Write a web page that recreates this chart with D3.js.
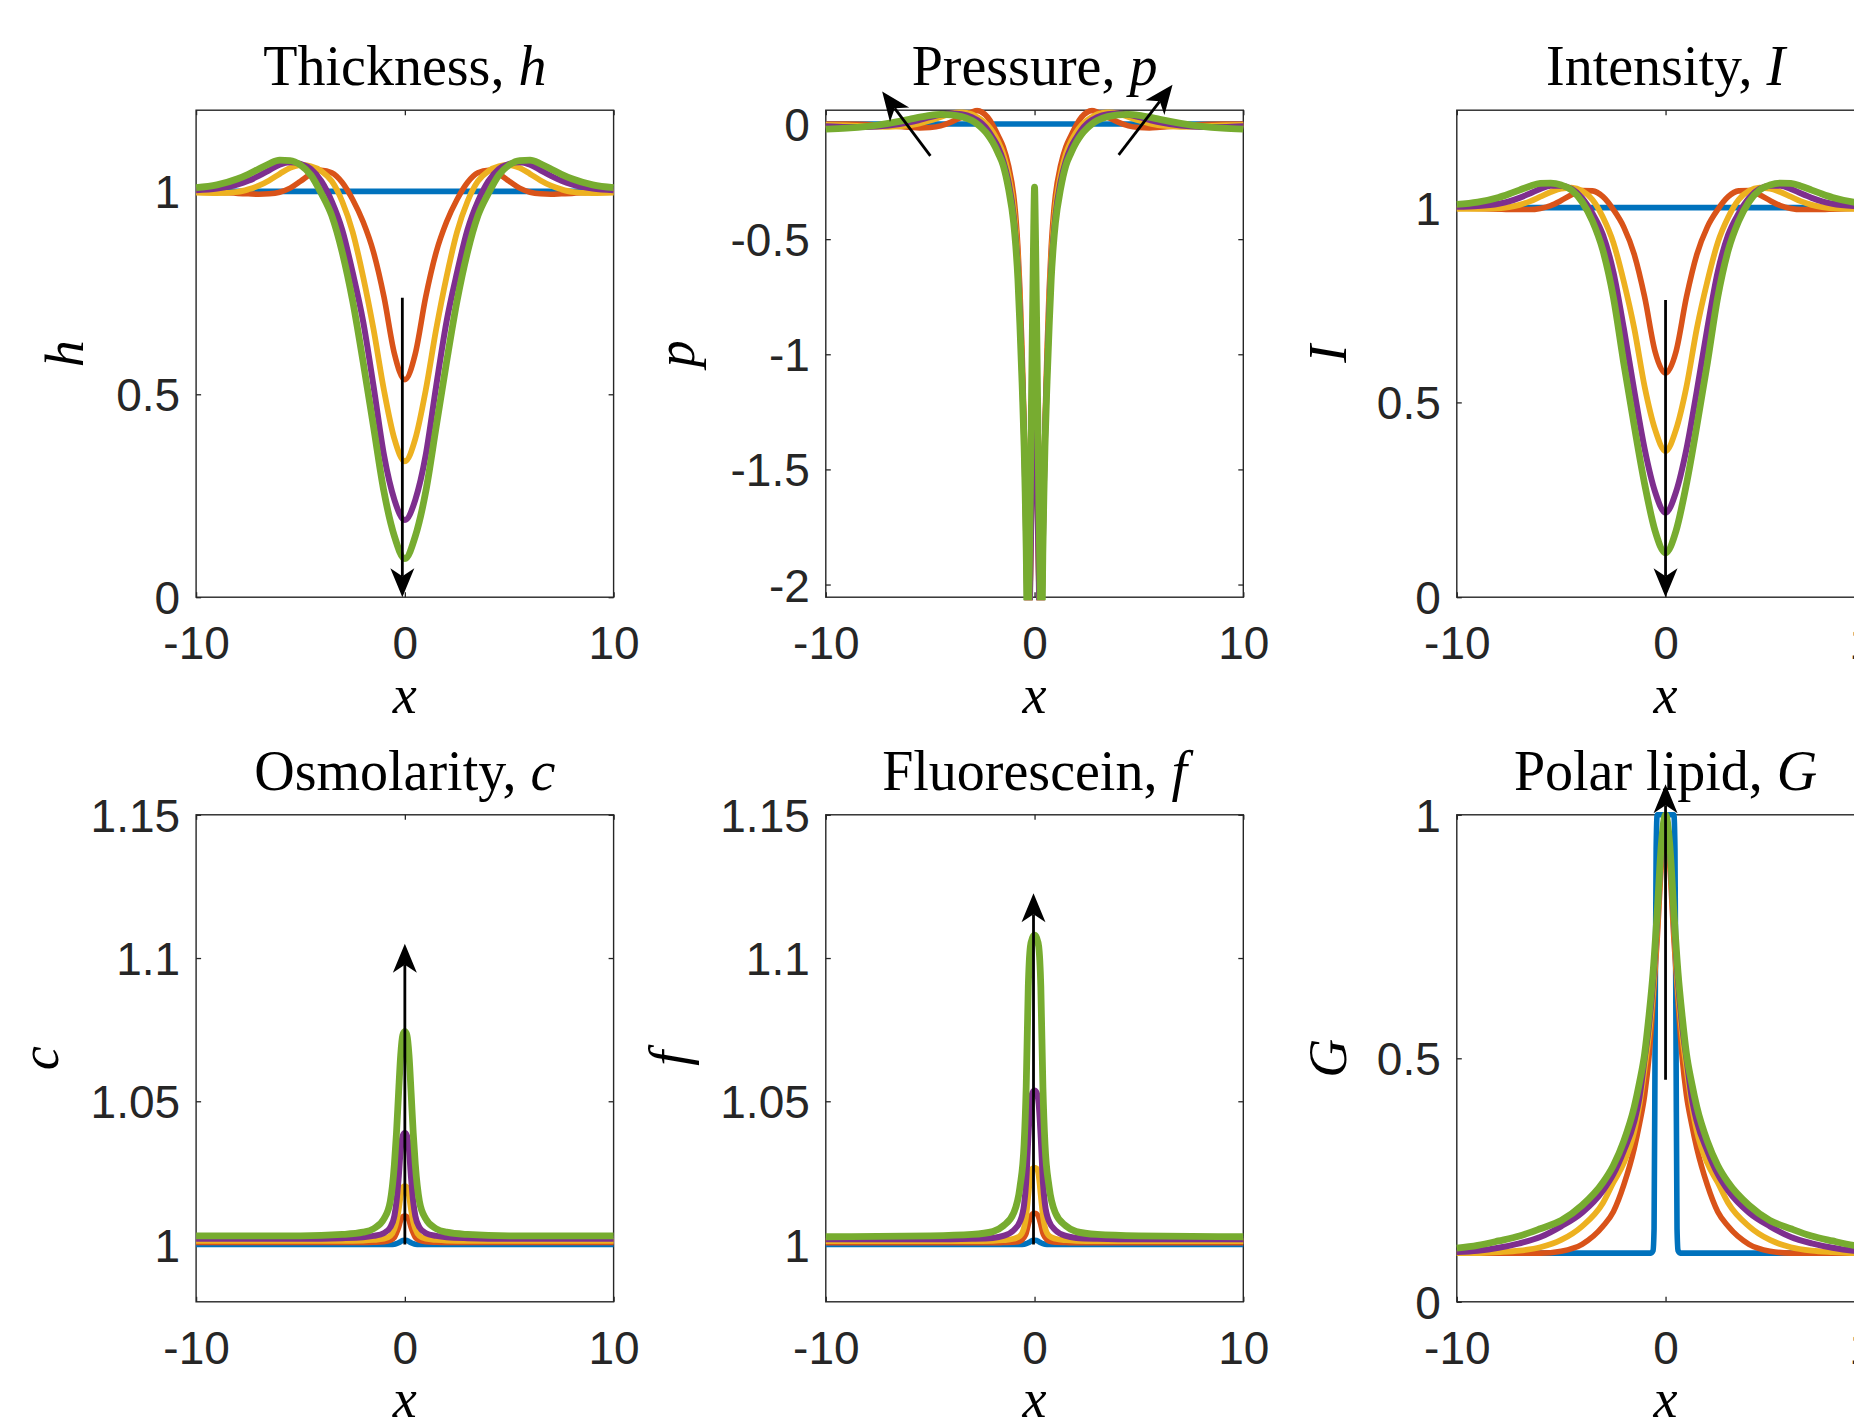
<!DOCTYPE html>
<html><head><meta charset="utf-8">
<script src="https://cdn.jsdelivr.net/npm/d3@7"></script>
<style>body{margin:0;background:#fff}svg{display:block}</style>
</head><body><svg id="chart"></svg>
<script>
// ---------------- DATA ----------------
const xTicks = [-10, 0, 10];

// Thickness h
const hYLim = [0, 1.2];
const hYTicks = [0, 0.5, 1];
const hYTickLabels = ["0", "0.5", "1"];
const hX = [-10,-9,-8,-7.5,-7,-6.5,-6,-5.5,-5,-4.5,-4,-3.5,-3,-2.5,-2,-1.5,-1,-0.5,0,0.5,1,1.5,2,2.5,3,3.5,4,4.5,5,5.5,6,6.5,7,7.5,8,9,10];
const hBlueX = [-10, 10];
const hBlue = [1, 1];
const hOrange = [0.999,0.998,0.995,0.994,0.993,0.994,0.998,1.008,1.025,1.043,1.052,1.046,1.022,0.98,0.925,0.85,0.74,0.60,0.536,0.60,0.74,0.85,0.925,0.98,1.022,1.046,1.052,1.043,1.025,1.008,0.998,0.994,0.993,0.994,0.995,0.998,0.999];
const hYellow = [0.997,0.996,0.999,1.005,1.014,1.027,1.043,1.058,1.065,1.062,1.05,1.025,0.975,0.90,0.79,0.66,0.51,0.39,0.335,0.39,0.51,0.66,0.79,0.90,0.975,1.025,1.05,1.062,1.065,1.058,1.043,1.027,1.014,1.005,0.999,0.996,0.997];
const hPurple = [1.003,1.007,1.017,1.026,1.038,1.052,1.066,1.072,1.068,1.055,1.025,0.975,0.905,0.80,0.68,0.52,0.35,0.24,0.19,0.24,0.35,0.52,0.68,0.80,0.905,0.975,1.025,1.055,1.068,1.072,1.066,1.052,1.038,1.026,1.017,1.007,1.003];
const hGreen = [1.009,1.016,1.031,1.042,1.055,1.068,1.077,1.076,1.065,1.04,0.995,0.94,0.85,0.73,0.58,0.42,0.26,0.15,0.095,0.15,0.26,0.42,0.58,0.73,0.85,0.94,0.995,1.04,1.065,1.076,1.077,1.068,1.055,1.042,1.031,1.016,1.009];
const hArrow = [[-0.12, 0.738], [-0.12, 0.0]];

// Pressure p
const pYLim = [-2.055, 0.06];
const pYTicks = [-2, -1.5, -1, -0.5, 0];
const pYTickLabels = ["-2", "-1.5", "-1", "-0.5", "0"];
const pX = [-10,-9,-8,-7,-6,-5.5,-5,-4.5,-4,-3.5,-3,-2.75,-2.5,-2.25,-2,-1.75,-1.5,-1.25,-1,-0.9,-0.8,-0.7,-0.6,-0.5,-0.45,-0.4,-0.35,-0.3,-0.25,-0.2,-0.16,-0.12,-0.08,-0.04,0,0.04,0.08,0.12,0.16,0.2,0.25,0.3,0.35,0.4,0.45,0.5,0.6,0.7,0.8,0.9,1,1.25,1.5,1.75,2,2.25,2.5,2.75,3,3.5,4,4.5,5,5.5,6,7,8,9,10];
const pBlueX = [-10, 10];
const pBlue = [0, 0];
const pOrange = [0.0,0.0,-0.002,-0.006,-0.014,-0.017,-0.015,-0.008,0.008,0.03,0.052,0.058,0.05,0.03,-0.005,-0.05,-0.10,-0.18,-0.31,-0.40,-0.53,-0.72,-0.98,-1.3,-1.5,-1.75,-2.05,-2.3,-2.2,-1.95,-1.7,-1.45,-1.2,-1.02,-0.93,-1.02,-1.2,-1.45,-1.7,-1.95,-2.2,-2.3,-2.05,-1.75,-1.5,-1.3,-0.98,-0.72,-0.53,-0.40,-0.31,-0.18,-0.10,-0.05,-0.005,0.03,0.05,0.058,0.052,0.03,0.008,-0.008,-0.015,-0.017,-0.014,-0.006,-0.002,0.0,0.0];
const pYellow = [-0.004,-0.006,-0.01,-0.012,-0.006,0.003,0.015,0.03,0.045,0.05,0.042,0.03,0.015,-0.005,-0.035,-0.075,-0.13,-0.22,-0.36,-0.46,-0.59,-0.78,-1.04,-1.35,-1.55,-1.8,-2.1,-2.28,-2.2,-1.95,-1.72,-1.48,-1.27,-1.12,-1.05,-1.12,-1.27,-1.48,-1.72,-1.95,-2.2,-2.28,-2.1,-1.8,-1.55,-1.35,-1.04,-0.78,-0.59,-0.46,-0.36,-0.22,-0.13,-0.075,-0.035,-0.005,0.015,0.03,0.042,0.05,0.045,0.03,0.015,0.003,-0.006,-0.012,-0.01,-0.006,-0.004];
const pPurple = [-0.01,-0.013,-0.013,-0.007,0.007,0.018,0.03,0.04,0.046,0.043,0.03,0.017,0.0,-0.025,-0.06,-0.1,-0.16,-0.25,-0.4,-0.5,-0.63,-0.83,-1.08,-1.37,-1.57,-1.82,-2.12,-2.25,-2.2,-1.96,-1.74,-1.52,-1.36,-1.25,-1.2,-1.25,-1.36,-1.52,-1.74,-1.96,-2.2,-2.25,-2.12,-1.82,-1.57,-1.37,-1.08,-0.83,-0.63,-0.5,-0.4,-0.25,-0.16,-0.1,-0.06,-0.025,0.0,0.017,0.03,0.043,0.046,0.04,0.03,0.018,0.007,-0.007,-0.013,-0.013,-0.01];
const pGreen = [-0.022,-0.018,-0.01,0.003,0.02,0.03,0.038,0.042,0.04,0.032,0.015,0.0,-0.02,-0.045,-0.08,-0.125,-0.18,-0.28,-0.43,-0.53,-0.67,-0.88,-1.12,-1.4,-1.6,-1.85,-2.18,-2.18,-1.92,-1.6,-1.3,-1.0,-0.72,-0.45,-0.274,-0.45,-0.72,-1.0,-1.3,-1.6,-1.92,-2.18,-2.18,-1.85,-1.6,-1.4,-1.12,-0.88,-0.67,-0.53,-0.43,-0.28,-0.18,-0.125,-0.08,-0.045,-0.02,0.0,0.015,0.032,0.04,0.042,0.038,0.03,0.02,0.003,-0.01,-0.018,-0.022];
const pArrowLeft = [[-4.99, -0.138], [-7.30, 0.141]];
const pArrowRight = [[4.03, -0.134], [6.61, 0.171]];

// Intensity I
const iYLim = [0, 1.25];
const iYTicks = [0, 0.5, 1];
const iYTickLabels = ["0", "0.5", "1"];
const iX = [-10,-9,-8,-7.5,-7,-6.5,-6,-5.5,-5,-4.5,-4,-3.5,-3,-2.5,-2,-1.5,-1,-0.5,0,0.5,1,1.5,2,2.5,3,3.5,4,4.5,5,5.5,6,6.5,7,7.5,8,9,10];
const iBlueX = [-10, 10];
const iBlue = [1, 1];
const iOrange = [0.999,0.998,0.996,0.995,0.995,0.995,0.998,1.005,1.018,1.033,1.044,1.043,1.028,0.995,0.95,0.88,0.77,0.63,0.575,0.63,0.77,0.88,0.95,0.995,1.028,1.043,1.044,1.033,1.018,1.005,0.998,0.995,0.995,0.995,0.996,0.998,0.999];
const iYellow = [0.997,0.997,0.998,1.001,1.007,1.016,1.028,1.04,1.049,1.051,1.043,1.02,0.975,0.91,0.81,0.69,0.54,0.43,0.375,0.43,0.54,0.69,0.81,0.91,0.975,1.02,1.043,1.051,1.049,1.04,1.028,1.016,1.007,1.001,0.998,0.997,0.997];
const iPurple = [1.002,1.004,1.010,1.016,1.025,1.036,1.048,1.056,1.056,1.048,1.025,0.985,0.93,0.835,0.69,0.53,0.38,0.27,0.217,0.27,0.38,0.53,0.69,0.835,0.93,0.985,1.025,1.048,1.056,1.056,1.048,1.036,1.025,1.016,1.010,1.004,1.002];
const iGreen = [1.008,1.014,1.026,1.035,1.045,1.055,1.062,1.063,1.058,1.045,1.015,0.965,0.89,0.77,0.60,0.44,0.29,0.17,0.114,0.17,0.29,0.44,0.60,0.77,0.89,0.965,1.015,1.045,1.058,1.063,1.062,1.055,1.045,1.035,1.026,1.014,1.008];
const iArrow = [[0, 0.763], [0, 0.0]];

// Osmolarity c
const cYLim = [0.98, 1.15];
const cYTicks = [1, 1.05, 1.1, 1.15];
const cYTickLabels = ["1", "1.05", "1.1", "1.15"];
const cX = [-10,-5,-3,-2,-1.5,-1,-0.7,-0.5,-0.4,-0.3,-0.2,-0.1,0,0.1,0.2,0.3,0.4,0.5,0.7,1,1.5,2,3,5,10];
const cBlue = [1,1,1,1,1,1,1,1.0001,1.0003,1.0006,1.001,1.0014,1.0015,1.0014,1.001,1.0006,1.0003,1.0001,1,1,1,1,1,1,1];
const cOrange = [1.0007,1.0007,1.0007,1.0007,1.0008,1.001,1.0015,1.0025,1.004,1.006,1.0085,1.0097,1.0099,1.0097,1.0085,1.006,1.004,1.0025,1.0015,1.001,1.0008,1.0007,1.0007,1.0007,1.0007];
const cYellow = [1.0013,1.0013,1.0013,1.0014,1.0016,1.002,1.003,1.0055,1.008,1.012,1.017,1.020,1.0204,1.020,1.017,1.012,1.008,1.0055,1.003,1.002,1.0016,1.0014,1.0013,1.0013,1.0013];
const cPurple = [1.002,1.002,1.0022,1.0025,1.003,1.004,1.006,1.010,1.015,1.023,1.033,1.038,1.0389,1.038,1.033,1.023,1.015,1.010,1.006,1.004,1.003,1.0025,1.0022,1.002,1.002];
const cGreen = [1.003,1.003,1.0035,1.0043,1.0055,1.009,1.015,1.028,1.039,1.053,1.066,1.073,1.0744,1.073,1.066,1.053,1.039,1.028,1.015,1.009,1.0055,1.0043,1.0035,1.003,1.003];
const cArrow = [[0, 1.0], [0, 1.105]];

// Fluorescein f
const fYLim = [0.98, 1.15];
const fYTicks = [1, 1.05, 1.1, 1.15];
const fYTickLabels = ["1", "1.05", "1.1", "1.15"];
const fX = [-10,-5,-3,-2,-1.5,-1,-0.7,-0.5,-0.4,-0.3,-0.2,-0.1,0,0.1,0.2,0.3,0.4,0.5,0.7,1,1.5,2,3,5,10];
const fBlue = [1,1,1,1,1,1,1,1.0001,1.0003,1.0006,1.001,1.0014,1.0015,1.0014,1.001,1.0006,1.0003,1.0001,1,1,1,1,1,1,1];
const fOrange = [1.0006,1.0006,1.0006,1.0006,1.0007,1.0008,1.0012,1.0025,1.004,1.007,1.0095,1.0107,1.0109,1.0107,1.0095,1.007,1.004,1.0025,1.0012,1.0008,1.0007,1.0006,1.0006,1.0006,1.0006];
const fYellow = [1.0012,1.0012,1.0012,1.0013,1.0015,1.002,1.003,1.006,1.010,1.017,1.024,1.0265,1.0268,1.0265,1.024,1.017,1.010,1.006,1.003,1.002,1.0015,1.0013,1.0012,1.0012,1.0012];
const fPurple = [1.0018,1.0018,1.002,1.0023,1.003,1.005,1.008,1.014,1.022,1.037,1.049,1.053,1.0538,1.053,1.049,1.037,1.022,1.014,1.008,1.005,1.003,1.0023,1.002,1.0018,1.0018];
const fGreen = [1.0027,1.003,1.0035,1.0045,1.0065,1.011,1.020,1.035,1.055,1.090,1.104,1.107,1.108,1.107,1.104,1.090,1.055,1.035,1.020,1.011,1.0065,1.0045,1.0035,1.003,1.0027];
const fArrow = [[-0.05, 1.0], [-0.05, 1.1226]];

// Polar lipid G
const gYLim = [0, 1];
const gYTicks = [0, 0.5, 1];
const gYTickLabels = ["0", "0.5", "1"];
const gX = [-10,-9,-8,-7,-6,-5,-4,-3,-2.5,-2,-1.5,-1.25,-1,-0.8,-0.6,-0.4,-0.2,0,0.2,0.4,0.6,0.8,1,1.25,1.5,2,2.5,3,4,5,6,7,8,9,10];
const gBlueX = [-10,-0.7,-0.6,-0.55,-0.5,-0.45,-0.4,0,0.4,0.45,0.5,0.55,0.6,0.7,10];
const gBlue = [0.1,0.1,0.105,0.15,0.55,0.93,1.0,1.0,1.0,0.93,0.55,0.15,0.105,0.1,0.1];
const gOrange = [0.1,0.1,0.1,0.1,0.1,0.104,0.118,0.155,0.185,0.24,0.315,0.365,0.425,0.50,0.615,0.745,0.90,1.0,0.90,0.745,0.615,0.50,0.425,0.365,0.315,0.24,0.185,0.155,0.118,0.104,0.1,0.1,0.1,0.1,0.1];
const gYellow = [0.1,0.1,0.102,0.105,0.112,0.127,0.155,0.203,0.245,0.285,0.35,0.405,0.48,0.545,0.635,0.77,0.92,1.0,0.92,0.77,0.635,0.545,0.48,0.405,0.35,0.285,0.245,0.203,0.155,0.127,0.112,0.105,0.102,0.1,0.1];
const gPurple = [0.102,0.105,0.111,0.12,0.133,0.155,0.183,0.228,0.262,0.31,0.37,0.42,0.50,0.565,0.655,0.785,0.93,1.0,0.93,0.785,0.655,0.565,0.50,0.42,0.37,0.31,0.262,0.228,0.183,0.155,0.133,0.12,0.111,0.105,0.102];
const gGreen = [0.11,0.116,0.125,0.135,0.15,0.167,0.198,0.245,0.28,0.33,0.40,0.45,0.51,0.585,0.675,0.80,0.94,1.0,0.94,0.80,0.675,0.585,0.51,0.45,0.40,0.33,0.28,0.245,0.198,0.167,0.15,0.135,0.125,0.116,0.11];
const gArrow = [[0, 0.456], [0, 1.0625]];

const titles = [["Thickness, ", "h"], ["Pressure, ", "p"], ["Intensity, ", "I"], ["Osmolarity, ", "c"], ["Fluorescein, ", "f"], ["Polar lipid, ", "G"]];
const yLabels = ["h", "p", "I", "c", "f", "G"];
const xLabel = "x";

// ---------------- LAYOUT / STYLE ----------------
const W = 1854, H = 1418;
const colLeft = [196.1, 825.8, 1456.8];
const rowTop = [110.2, 814.8];
const plotW = 417.5, plotH = 487.0;
const yLabelOffset = [113, 132, 111, 138, 139, 111];
const seriesColors = ["#0072BD", "#D95319", "#EDB120", "#7E2F8E", "#77AC30"];
const seriesWidths = [5.6, 5.6, 5.8, 6.0, 6.8];
const axisColor = "#262626";
const tickFont = "'Liberation Sans', Arial, Helvetica, sans-serif";
const serifFont = "'Liberation Serif', 'Times New Roman', 'DejaVu Serif', serif";

const panels = [
  {ylim: hYLim, yTicks: hYTicks, yLabs: hYTickLabels, series: [[hBlueX, hBlue], [hX, hOrange], [hX, hYellow], [hX, hPurple], [hX, hGreen]], arrows: [hArrow]},
  {ylim: pYLim, yTicks: pYTicks, yLabs: pYTickLabels, series: [[pBlueX, pBlue], [pX, pOrange], [pX, pYellow], [pX, pPurple], [pX, pGreen]], arrows: [pArrowLeft, pArrowRight]},
  {ylim: iYLim, yTicks: iYTicks, yLabs: iYTickLabels, series: [[iBlueX, iBlue], [iX, iOrange], [iX, iYellow], [iX, iPurple], [iX, iGreen]], arrows: [iArrow]},
  {ylim: cYLim, yTicks: cYTicks, yLabs: cYTickLabels, series: [[cX, cBlue], [cX, cOrange], [cX, cYellow], [cX, cPurple], [cX, cGreen]], arrows: [cArrow]},
  {ylim: fYLim, yTicks: fYTicks, yLabs: fYTickLabels, series: [[fX, fBlue], [fX, fOrange], [fX, fYellow], [fX, fPurple], [fX, fGreen]], arrows: [fArrow]},
  {ylim: gYLim, yTicks: gYTicks, yLabs: gYTickLabels, series: [[gBlueX, gBlue], [gX, gOrange], [gX, gYellow], [gX, gPurple], [gX, gGreen]], arrows: [gArrow]}
];

const svg = d3.select("#chart").attr("width", W).attr("height", H);
svg.append("rect").attr("width", W).attr("height", H).attr("fill", "#fff");
const defs = svg.append("defs");

function drawArrow(g, x0, y0, x1, y1) {
  const dx = x1 - x0, dy = y1 - y0, len = Math.hypot(dx, dy);
  const ux = dx / len, uy = dy / len, px = -uy, py = ux;
  const L = 29, HW = 12, N = 8;
  const bx = x1 - ux * (L - N), by = y1 - uy * (L - N);
  g.append("line").attr("x1", x0).attr("y1", y0).attr("x2", bx).attr("y2", by)
    .attr("stroke", "#000").attr("stroke-width", 2.8);
  const p2 = [x1 - ux * L + px * HW, y1 - uy * L + py * HW];
  const p4 = [x1 - ux * L - px * HW, y1 - uy * L - py * HW];
  g.append("path").attr("d", `M${x1},${y1}L${p2[0]},${p2[1]}L${bx},${by}L${p4[0]},${p4[1]}Z`).attr("fill", "#000");
}

panels.forEach((P, i) => {
  const left = colLeft[i % 3], top = rowTop[Math.floor(i / 3)];
  const bottom = top + plotH, right = left + plotW, cx = left + plotW / 2;
  const x = d3.scaleLinear().domain([-10, 10]).range([left, right]);
  const y = d3.scaleLinear().domain(P.ylim).range([bottom, top]);
  const g = svg.append("g");

  // box
  g.append("rect").attr("x", left).attr("y", top).attr("width", plotW).attr("height", plotH)
    .attr("fill", "none").attr("stroke", axisColor).attr("stroke-width", 1.4);

  // axes (ticks inward, mirrored)
  const styleAxis = sel => {
    sel.select(".domain").remove();
    sel.selectAll(".tick line").attr("stroke", axisColor).attr("stroke-width", 1.3);
    sel.selectAll("text").attr("fill", axisColor).attr("font-family", tickFont).attr("font-size", 46);
  };
  const gb = g.append("g").attr("transform", `translate(0,${bottom})`)
    .call(d3.axisBottom(x).tickValues(xTicks).tickFormat(d => String(d)).tickSizeInner(-5).tickSizeOuter(0));
  styleAxis(gb);
  gb.selectAll("text").attr("y", 62).attr("dy", null);
  const gt = g.append("g").attr("transform", `translate(0,${top})`)
    .call(d3.axisTop(x).tickValues(xTicks).tickFormat("").tickSizeInner(-5).tickSizeOuter(0));
  styleAxis(gt);
  const gl = g.append("g").attr("transform", `translate(${left},0)`)
    .call(d3.axisLeft(y).tickValues(P.yTicks).tickFormat((d, k) => P.yLabs[k]).tickSizeInner(-5).tickSizeOuter(0));
  styleAxis(gl);
  gl.selectAll("text").attr("x", -16).attr("dy", "0.36em");
  const gr = g.append("g").attr("transform", `translate(${right},0)`)
    .call(d3.axisRight(y).tickValues(P.yTicks).tickFormat("").tickSizeInner(-5).tickSizeOuter(0));
  styleAxis(gr);

  // curves
  const clipId = "clip" + i;
  defs.append("clipPath").attr("id", clipId).append("rect")
    .attr("x", left - 3).attr("y", top - 3).attr("width", plotW + 6).attr("height", plotH + 6);
  const lineGen = d3.line().x(d => x(d[0])).y(d => y(d[1])).curve(d3.curveMonotoneX);
  const cg = g.append("g").attr("clip-path", `url(#${clipId})`);
  P.series.forEach((s, k) => {
    cg.append("path").datum(d3.zip(s[0], s[1])).attr("d", lineGen)
      .attr("fill", "none").attr("stroke", seriesColors[k]).attr("stroke-width", seriesWidths[k])
      .attr("stroke-linejoin", "round");
  });

  // title
  const t = g.append("text").attr("x", cx).attr("y", top - 25).attr("text-anchor", "middle")
    .attr("font-family", serifFont).attr("font-size", 56).attr("fill", "#000");
  t.append("tspan").text(titles[i][0]);
  t.append("tspan").attr("font-style", "italic").text(titles[i][1]);

  // x label
  g.append("text").attr("x", cx).attr("y", bottom + 115.6).attr("text-anchor", "middle")
    .attr("font-family", serifFont).attr("font-style", "italic").attr("font-size", 54).attr("fill", "#000").text(xLabel);
  // y label
  g.append("text").attr("transform", `translate(${left - yLabelOffset[i]},${top + plotH / 2}) rotate(-90)`)
    .attr("text-anchor", "middle").attr("font-family", serifFont).attr("font-style", "italic")
    .attr("font-size", 54).attr("fill", "#000").text(yLabels[i]);

  // arrows
  const ag = g.append("g");
  P.arrows.forEach(a => drawArrow(ag, x(a[0][0]), y(a[0][1]), x(a[1][0]), y(a[1][1])));
});
</script></body></html>
